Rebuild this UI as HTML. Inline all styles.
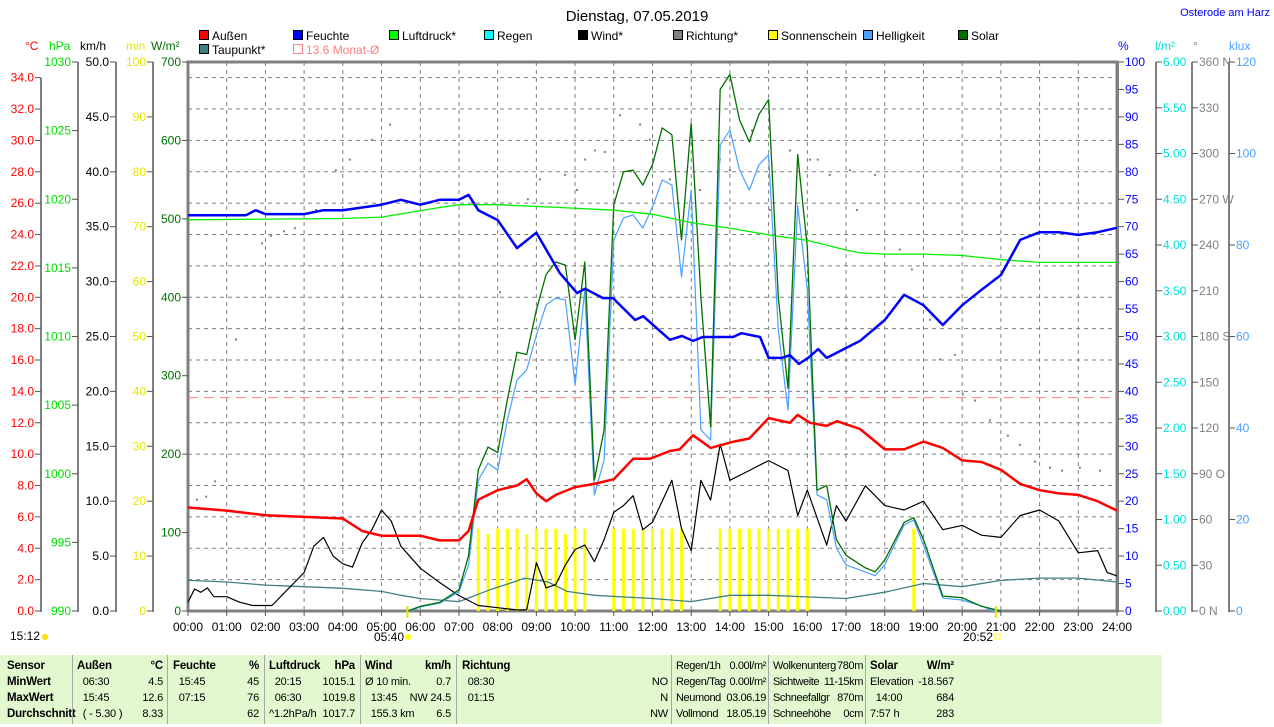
<!DOCTYPE html>
<html><head><meta charset="utf-8"><style>
body{margin:0;background:#fff;width:1274px;height:724px;overflow:hidden;font-family:"Liberation Sans",sans-serif}
svg{position:absolute;left:0;top:0}
text{font-family:"Liberation Sans",sans-serif;font-size:12px}
#tbl{position:absolute;left:0;top:655px;width:1162px;height:69px;background:#e2f9cf}
.c{position:absolute;top:0;height:69px;font-size:11px;line-height:16px;padding-top:3px;letter-spacing:-0.2px}
.sep{position:absolute;top:0;width:1px;height:69px;background:#a8a8a8}
.r{display:flex;justify-content:space-between;white-space:pre}
.b{font-weight:bold;font-size:11.5px}
</style></head><body>
<svg id="chart" width="1274" height="655"></svg>
<div id="tbl">
<div class="c b" style="left:7px;width:64px"><div>Sensor</div><div>MinWert</div><div>MaxWert</div><div>Durchschnitt</div></div>
<div class="sep" style="left:72px"></div>
<div class="c" style="left:77px;width:86px"><div class="r b"><span>Außen</span><span>°C</span></div><div class="r"><span>  06:30</span><span>4.5</span></div><div class="r"><span>  15:45</span><span>12.6</span></div><div class="r"><span>  ( - 5.30 )</span><span>8.33</span></div></div>
<div class="sep" style="left:167px"></div>
<div class="c" style="left:173px;width:86px"><div class="r b"><span>Feuchte</span><span>%</span></div><div class="r"><span>  15:45</span><span>45</span></div><div class="r"><span>  07:15</span><span>76</span></div><div class="r"><span> </span><span>62</span></div></div>
<div class="sep" style="left:264px"></div>
<div class="c" style="left:269px;width:86px"><div class="r b"><span>Luftdruck</span><span>hPa</span></div><div class="r"><span>  20:15</span><span>1015.1</span></div><div class="r"><span>  06:30</span><span>1019.8</span></div><div class="r"><span>^1.2hPa/h</span><span>1017.7</span></div></div>
<div class="sep" style="left:360px"></div>
<div class="c" style="left:365px;width:86px"><div class="r b"><span>Wind</span><span>km/h</span></div><div class="r"><span>Ø 10 min.</span><span>0.7</span></div><div class="r"><span>  13:45</span><span>NW 24.5</span></div><div class="r"><span>  155.3 km</span><span>6.5</span></div></div>
<div class="sep" style="left:456px"></div>
<div class="c" style="left:462px;width:206px"><div class="r b"><span>Richtung</span><span></span></div><div class="r"><span>  08:30</span><span>NO</span></div><div class="r"><span>  01:15</span><span>N</span></div><div class="r"><span> </span><span>NW</span></div></div>
<div class="sep" style="left:671px"></div>
<div class="c" style="left:676px;width:90px;letter-spacing:-0.4px"><div class="r"><span>Regen/1h</span><span>0.00l/m²</span></div><div class="r"><span>Regen/Tag</span><span>0.00l/m²</span></div><div class="r"><span>Neumond</span><span>03.06.19</span></div><div class="r"><span>Vollmond</span><span>18.05.19</span></div></div>
<div class="sep" style="left:768px"></div>
<div class="c" style="left:773px;width:90px;letter-spacing:-0.4px"><div class="r"><span>Wolkenunterg</span><span>780m</span></div><div class="r"><span>Sichtweite</span><span>11-15km</span></div><div class="r"><span>Schneefallgr</span><span>870m</span></div><div class="r"><span>Schneehöhe</span><span>0cm</span></div></div>
<div class="sep" style="left:865px"></div>
<div class="c" style="left:870px;width:84px"><div class="r b"><span>Solar</span><span>W/m²</span></div><div class="r"><span>Elevation</span><span>-18.567</span></div><div class="r"><span>  14:00</span><span>684</span></div><div class="r"><span>7:57 h</span><span>283</span></div></div>
</div>
<script>
// ---- data ----
const tempT=[0,1,2,3,4,4.5,5,5.5,6,6.5,7,7.25,7.5,8,8.5,8.75,9,9.25,9.5,10,10.5,11,11.5,11.93,12.45,12.7,13.05,13.5,14.1,14.5,15,15.55,15.75,16.07,16.5,16.77,17.36,18,18.5,19,19.5,20,20.5,21,21.5,22,22.5,23,23.5,24];
const tempV=[6.6,6.4,6.1,6.0,5.9,5.1,4.8,4.8,4.8,4.5,4.5,5.1,7.1,7.7,8.0,8.4,7.5,7.0,7.4,7.9,8.1,8.4,9.7,9.7,10.2,10.3,11.2,10.4,10.8,11.0,12.3,12.0,12.5,12.0,11.8,12.1,11.6,10.3,10.3,10.8,10.4,9.6,9.5,9.0,8.1,7.7,7.5,7.4,7.0,6.4];
const humT=[0,1.5,1.75,2,3,3.5,4,5,5.5,6,6.5,7,7.25,7.5,8,8.5,9,9.6,10.05,10.26,10.72,10.98,11.55,11.76,12.45,12.76,13.05,13.3,14.08,14.3,14.78,15.0,15.34,15.55,15.78,16.02,16.28,16.5,17.36,18,18.5,19,19.5,20,20.5,21,21.5,22,22.5,23,23.5,24];
const humV=[72.1,72.1,73,72.3,72.3,73,73,74,74.9,74,74.9,74.9,75.8,73,71.2,66.1,68.9,61.6,57.9,58.7,57,57,53,53.7,49.4,50.1,49.2,49.9,49.9,50.6,49.9,46.1,46.1,46.6,45,46.1,47.7,46.1,49.2,53,57.6,55.7,52.1,55.7,58.5,61.2,67.6,69,69,68.5,69,69.8];
const presT=[0,4,5,6.5,7,8,9.6,11,12,13,14,15,16,17,17.36,18,19,20,21,22,24];
const presV=[1018.5,1018.6,1018.7,1019.4,1019.6,1019.6,1019.4,1019.2,1018.9,1018.3,1017.9,1017.4,1017.0,1016.3,1016.1,1016.0,1016.0,1015.9,1015.6,1015.4,1015.4];
const dewT=[0,1,2,3,4,5,5.5,6,7,7.8,8.3,8.7,9.3,9.8,10.5,12,13,14,15,16,17,18,19,20,21,22,23,24];
const dewV=[1.95,1.85,1.65,1.55,1.45,1.25,1.0,0.8,0.6,1.35,1.75,2.1,1.85,1.25,1.0,0.8,0.6,1.0,1.0,0.9,0.8,1.2,1.75,1.55,1.95,2.1,2.1,1.85];
const windT=[0,0.17,0.33,0.5,0.67,1,1.33,1.67,2,2.17,2.5,2.75,3,3.25,3.5,3.75,4,4.25,4.5,4.75,5,5.25,5.5,6,6.5,7,7.5,8,8.5,8.75,9,9.25,9.5,9.75,10,10.25,10.5,10.75,11,11.25,11.5,11.75,12,12.5,12.75,13,13.25,13.5,13.75,14,14.5,15,15.5,15.75,16,16.5,16.75,17,17.5,18,18.5,19,19.5,20,20.5,21,21.5,22,22.5,23,23.5,23.75,24];
const windV=[0.8,2.0,1.7,2.1,1.3,1.3,0.8,0.5,0.5,0.5,1.7,2.6,3.5,5.9,6.7,5.0,4.3,4.0,6.2,7.4,9.2,8.2,5.9,3.9,2.6,1.4,0.5,0.3,0.1,0.1,4.4,2.1,2.4,4.2,5.6,6.0,4.5,6.5,9.0,9.6,10.5,7.4,8.1,11.9,7.5,5.5,11.9,10.1,15.2,11.9,12.8,13.7,12.8,8.7,11.0,6.0,9.6,8.2,11.4,9.6,9.2,10.0,7.4,7.8,6.9,6.7,8.7,9.2,8.2,5.3,5.5,3.5,3.2];
const solT=[5.67,6,6.5,7,7.25,7.5,7.75,8,8.25,8.5,8.75,9,9.25,9.5,9.75,10,10.25,10.5,10.75,11,11.25,11.5,11.75,12,12.25,12.5,12.75,13,13.25,13.5,13.75,14,14.25,14.5,14.75,15,15.25,15.5,15.75,16,16.25,16.5,16.75,17,17.5,17.75,18,18.5,18.75,19,19.5,20,20.5,21];
const solV=[0,6,11,27,71,180,209,202,269,330,327,384,429,445,441,346,445,167,231,518,560,562,543,569,616,607,473,622,400,235,665,684,626,598,633,652,400,284,582,464,154,160,91,71,55,50,65,113,119,91,19,17,6,0];
const luxT=[5.75,6,6.5,7,7.25,7.5,7.75,8,8.25,8.5,8.75,9,9.25,9.5,9.75,10,10.25,10.5,10.75,11,11.25,11.5,11.75,12,12.25,12.5,12.75,13,13.25,13.5,13.75,14,14.25,14.5,14.75,15,15.25,15.5,15.75,16,16.25,16.5,16.75,17,17.5,17.75,18,18.5,18.75,19,19.5,20,20.5,20.75,21];
const luxV=[0,0.9,1.7,4.2,10.1,28.6,32.3,30.8,41.7,50.5,52.7,60.3,66.9,68.4,68,49.4,70.2,25.4,33,81.1,85.9,86.6,83.7,88.3,94.2,93.1,73,92,39.6,37.4,101.9,105.1,96.4,92,97.5,99.7,61.4,43.9,88.7,70.2,25.4,24.3,13.8,10.1,8.5,7.7,10.1,18.8,19.9,14.4,2.8,2.4,1.1,0.2,0];
const sunT=[7.5,7.75,8,8.25,8.5,8.75,9,9.25,9.5,9.75,10,10.25,11,11.25,11.5,11.75,12,12.25,12.5,12.75,13.75,14,14.25,14.5,14.75,15,15.25,15.5,15.75,16,18.75];
const sunV=[15,14,15,15,15,14,15,15,15,14,15,15,15,15,15,15,15,15,15,15,15,15,15,15,15,15,15,15,15,15,15];
const dirT=[0.23,0.47,0.7,1.24,1.91,2.14,2.48,2.76,3.31,3.82,4.18,4.75,5.22,8.06,8.78,9.09,9.74,10.05,10.26,10.51,10.77,11.16,11.68,11.93,12.45,13.23,13.74,14.0,14.57,15.03,15.55,16.07,16.27,16.58,17.1,17.28,17.75,18.39,18.7,19.17,19.43,19.81,20.02,20.33,20.72,21.18,21.49,21.88,22.27,22.58,23.04,23.56];
const dirV=[73,75,85,178,241,246,249,251,263,289,296,309,319,209,270,283,286,276,296,302,301,325,319,309,283,276,296,289,315,263,302,296,296,286,289,263,286,237,224,191,165,168,142,138,125,115,109,98,94,92,94,92];
const monatAvg=13.6;
const xTickLabels=["00:00","01:00","02:00","03:00","04:00","05:00","06:00","07:00","08:00","09:00","10:00","11:00","12:00","13:00","14:00","15:00","16:00","17:00","18:00","19:00","20:00","21:00","22:00","23:00","24:00"];

// ---- axes ----
const X0=188,X1=1117,Y0=611,Y1=62;
const x=h=>X0+(X1-X0)*h/24;
const lin=(a,b)=>v=>Y0-(Y0-Y1)*(v-a)/(b-a);
const yT=lin(0,35),yP=lin(990,1030),yW=lin(0,50),yM=lin(0,100),yS=lin(0,700),yH=lin(0,100),yR=lin(0,6),yD=lin(0,360),yL=lin(0,120);
const svg=document.getElementById('chart');
const NS='http://www.w3.org/2000/svg';
function mk(tag,a,parent){const e=document.createElementNS(NS,tag);for(const k in a)e.setAttribute(k,a[k]);(parent||svg).appendChild(e);return e;}
function txt(s,xx,yy,fill,anchor,size){const e=mk('text',{x:xx,y:yy,fill:fill,'text-anchor':anchor||'start'});if(size)e.style.fontSize=size+'px';e.textContent=s;return e;}

for(let h=1;h<24;h++){const l=mk('line',{x1:x(h),x2:x(h),y1:Y1,y2:Y0,stroke:'#808080','stroke-dasharray':'4,4'});

}
for(let t=2;t<=34;t+=2){const l=mk('line',{x1:X0,x2:X1,y1:yT(t),y2:yT(t),stroke:'#808080','stroke-dasharray':'4,4'});

}
const frame=mk('path',{d:`M${X0},${Y0}V${Y1}H${X1}V${Y0}H${X0}`,fill:'none',stroke:'#808080','stroke-width':3});



function axis(name,ax,vals,fmt,yf,color,side,tickCol){
 const g=mk('g',{});
 
 
 mk('line',{x1:ax,x2:ax,y1:yf(vals[0])+1,y2:yf(vals[vals.length-1]),stroke:'#808080','stroke-width':2},g);
 vals.forEach(v=>{const yy=yf(v);
  if(side==='L'){mk('line',{x1:ax-6,x2:ax,y1:yy,y2:yy,stroke:tickCol||'#555'},g);g.appendChild(txt(fmt(v),ax-7,yy+4,color,'end'));}
  else{mk('line',{x1:ax,x2:ax+6,y1:yy,y2:yy,stroke:tickCol||'#555'},g);g.appendChild(txt(fmt(v),ax+7,yy+4,color,'start'));}
 });
 return g;}
const rng=(a,b,s)=>{const r=[];for(let v=a;v<=b+1e-9;v+=s)r.push(+v.toFixed(3));return r;};
axis('temp-axis',41,rng(0,34,2),v=>v.toFixed(1),yT,'#ff0000','L');
axis('pressure-axis',78,rng(990,1030,5),v=>String(v),yP,'#00dd00','L');
axis('wind-axis',116,rng(0,50,5),v=>v.toFixed(1),yW,'#000','L');
axis('sunshine-axis',153,rng(0,100,10),v=>String(v),yM,'#e6e600','L');
axis('solar-axis',188,rng(0,700,100),v=>String(v),yS,'#007000','L');
axis('humidity-axis',1118,rng(0,100,5),v=>String(v),yH,'#0000ff','R');
axis('rain-axis',1156,rng(0,6,0.5),v=>v.toFixed(2),yR,'#00e0e0','R');
const dirLbl={0:' N',90:' O',180:' S',270:' W',360:' N'};
axis('direction-axis',1192,rng(0,360,30),v=>v+(dirLbl[v]||''),yD,'#808080','R');
axis('lux-axis',1229,rng(0,120,20),v=>String(v),yL,'#4aa0ff','R');

[['°C',25,'#ff0000'],['hPa',49,'#00dd00'],['km/h',80,'#000'],['min',126,'#e6e600'],['W/m²',151,'#007000'],['%',1118,'#0000ff'],['l/m²',1155,'#00e0e0'],['°',1193,'#808080'],['klux',1229,'#4aa0ff']].forEach(u=>{const e=txt(u[0],u[1],50,u[2]);

});

xTickLabels.forEach((s,i)=>{mk('line',{x1:x(i),x2:x(i),y1:Y0,y2:Y0+5,stroke:'#555'});const e=txt(s,x(i),631,'#000','middle');

});

const ti=txt('Dienstag, 07.05.2019',637,21,'#000','middle',15);


const loc=txt('Osterode am Harz',1270,16,'#0000ff','end',11);



const leg=[['Außen','#ff0000',199,38],['Feuchte','#0000ff',293,38],['Luftdruck*','#00ff00',389,38],['Regen','#00ffff',484,38],['Wind*','#000000',578,38],['Richtung*','#808080',673,38],['Sonnenschein','#ffff00',768,38],['Helligkeit','#4aa0ff',863,38],['Solar','#007000',958,38],['Taupunkt*','#408080',199,52]];
leg.forEach(l=>{const g=mk('g',{});


mk('rect',{x:l[2]+0.5,y:l[3]-7.5,width:9,height:9,fill:l[1],stroke:'#000'},g);g.appendChild(txt(l[0],l[2]+13,l[3]+2,'#000'));});
const lm=mk('g',{});


mk('rect',{x:293.5,y:44.5,width:9,height:9,fill:'none',stroke:'#ff8080'},lm);lm.appendChild(txt(monatAvg+' Monat-Ø',306,54,'#ff8080'));

const ml=mk('line',{x1:X0,x2:X1,y1:yT(monatAvg),y2:yT(monatAvg),stroke:'#ff8080','stroke-dasharray':'10,6'});



sunT.forEach((t,i)=>{const r=mk('rect',{x:x(t)-1.5,y:yM(sunV[i]),width:3,height:Y0-yM(sunV[i]),fill:'#ffff00'});

});

dirT.forEach((t,i)=>{const r=mk('rect',{x:x(t)-1,y:yD(dirV[i])-1,width:2,height:2,fill:'#808080'});

});

function line(name,ts,vs,yf,color,w){const d=ts.map((t,i)=>(i?'L':'M')+x(t).toFixed(1)+','+yf(vs[i]).toFixed(1)).join('');
const p=mk('path',{d:d,fill:'none',stroke:color,'stroke-width':w,'stroke-linejoin':'round'});

}
line('dewpoint-line',dewT,dewV,yT,'#408080',1.3);
line('wind-line',windT,windV,yW,'#000',1.2);
line('brightness-line',luxT,luxV,yL,'#4aa0ff',1.2);
line('solar-line',solT,solV,yS,'#007000',1.3);
line('pressure-line',presT,presV,yP,'#00ee00',1.3);
line('humidity-line',humT,humV,yH,'#0000ff',2.5);
line('temperature-line',tempT,tempV,yT,'#ff0000',2.5);

[['15:12',10,640],['05:40',374,641],['20:52',963,641]].forEach(s=>{const e=txt(s[0],s[1],s[2],'#000');

});
mk('circle',{cx:45,cy:637,r:3,fill:'#ffdd00'});
mk('circle',{cx:408,cy:637,r:3,fill:'#ffff00'});
mk('rect',{x:995,y:634,width:5,height:5,fill:'none',stroke:'#ffff00'});
mk('line',{x1:x(5.67),x2:x(5.67),y1:606,y2:618,stroke:'#e6e600','stroke-width':2});
mk('line',{x1:x(20.87),x2:x(20.87),y1:606,y2:618,stroke:'#e6e600','stroke-width':2});
</script>
</body></html>
